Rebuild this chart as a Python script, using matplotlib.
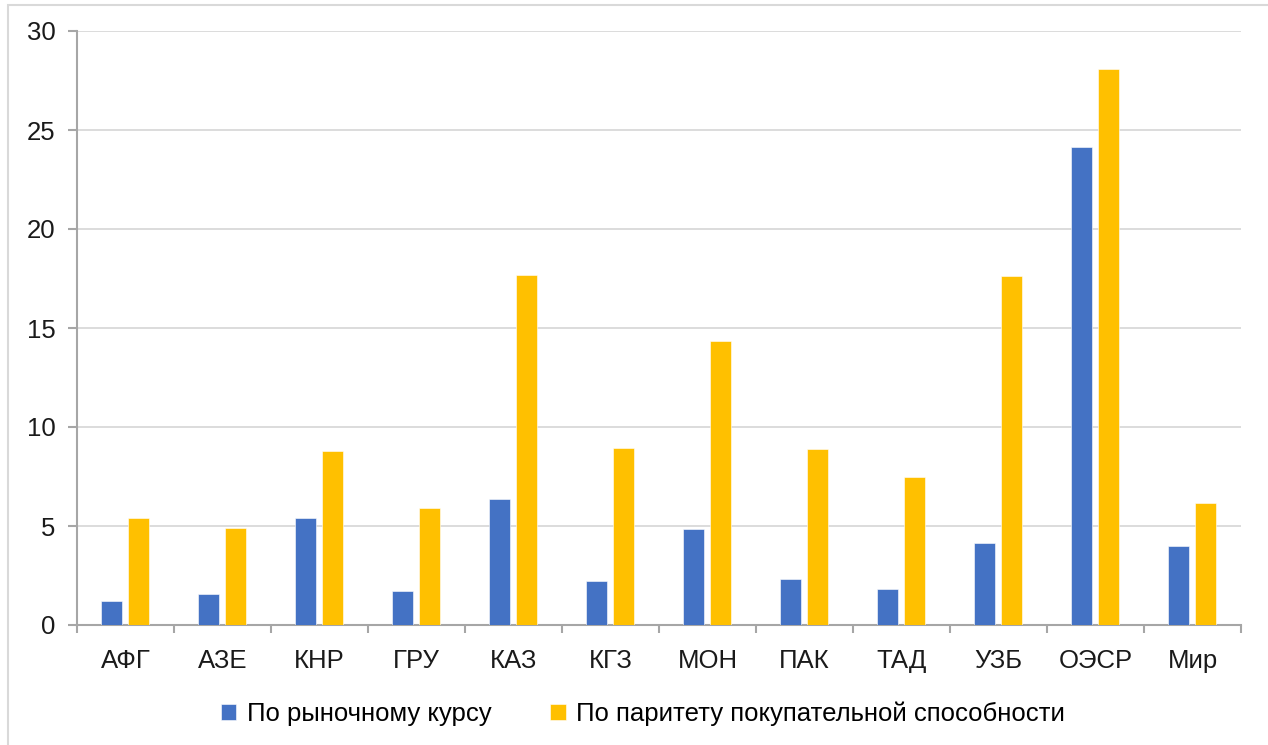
import numpy as np
import matplotlib.pyplot as plt
from matplotlib.patches import Rectangle

plt.rcParams['font.family'] = ['Liberation Sans', 'DejaVu Sans']

# Данные
categories = ['АФГ', 'АЗЕ', 'КНР', 'ГРУ', 'КАЗ', 'КГЗ', 'МОН', 'ПАК', 'ТАД', 'УЗБ', 'ОЭСР', 'Мир']
market = [1.23, 1.55, 5.39, 1.73, 6.35, 2.24, 4.84, 2.31, 1.80, 4.14, 24.14, 4.0]
ppp = [5.39, 4.89, 8.79, 5.9, 17.69, 8.94, 14.35, 8.89, 7.48, 17.64, 28.1, 6.15]
labels = ['По рыночному курсу', 'По паритету покупательной способности']

W, H = 1268, 745
fig = plt.figure(figsize=(W / 100, H / 100), dpi=100)
ax = fig.add_axes([77 / W, 1 - 625 / H, (1241 - 77) / W, (625 - 31) / H])

# рамка рисунка
fig.patches.append(Rectangle((8 / W, -0.1), 1.2, 1.1 - 5 / H, transform=fig.transFigure,
                             fill=False, edgecolor='#d9d9d9', linewidth=1.5))

x = np.arange(len(categories))
bw = 0.22
ax.bar(x - 0.145, market, bw, color='#4472C4', edgecolor='white', linewidth=0.4, label=labels[0], zorder=3)
ax.bar(x + 0.135, ppp, bw, color='#FFC000', edgecolor='white', linewidth=0.4, label=labels[1], zorder=3)

ax.set_xlim(-0.5, len(categories) - 0.5)
ax.set_ylim(0, 30)
ax.set_yticks(np.arange(0, 31, 5))
ax.set_xticks(x)
ax.set_xticklabels(categories)
ax.set_xticks(np.arange(-0.5, len(categories), 1), minor=True)

ax.grid(axis='y', color='#d9d9d9', linewidth=1.3, zorder=0)
for s in ['top', 'right']:
    ax.spines[s].set_visible(False)
for s in ['left', 'bottom']:
    ax.spines[s].set_color('#a6a6a6')
    ax.spines[s].set_linewidth(1.5)

fs = 18.5
ax.tick_params(axis='y', length=6.5, width=1.5, color='#a6a6a6', pad=9, labelsize=fs, labelcolor='#1a1a1a')
ax.tick_params(axis='x', which='major', length=0, pad=17, labelsize=fs, labelcolor='#1a1a1a')
ax.tick_params(axis='x', which='minor', length=5.5, width=1.5, color='#a6a6a6')

fig.legend(loc='center', bbox_to_anchor=(643 / W, 1 - 714 / H), ncol=2, frameon=False,
           fontsize=fs, handlelength=0.6, handleheight=0.6, handletextpad=0.4,
           columnspacing=2.3)

fig.savefig('out.png', dpi=100)
